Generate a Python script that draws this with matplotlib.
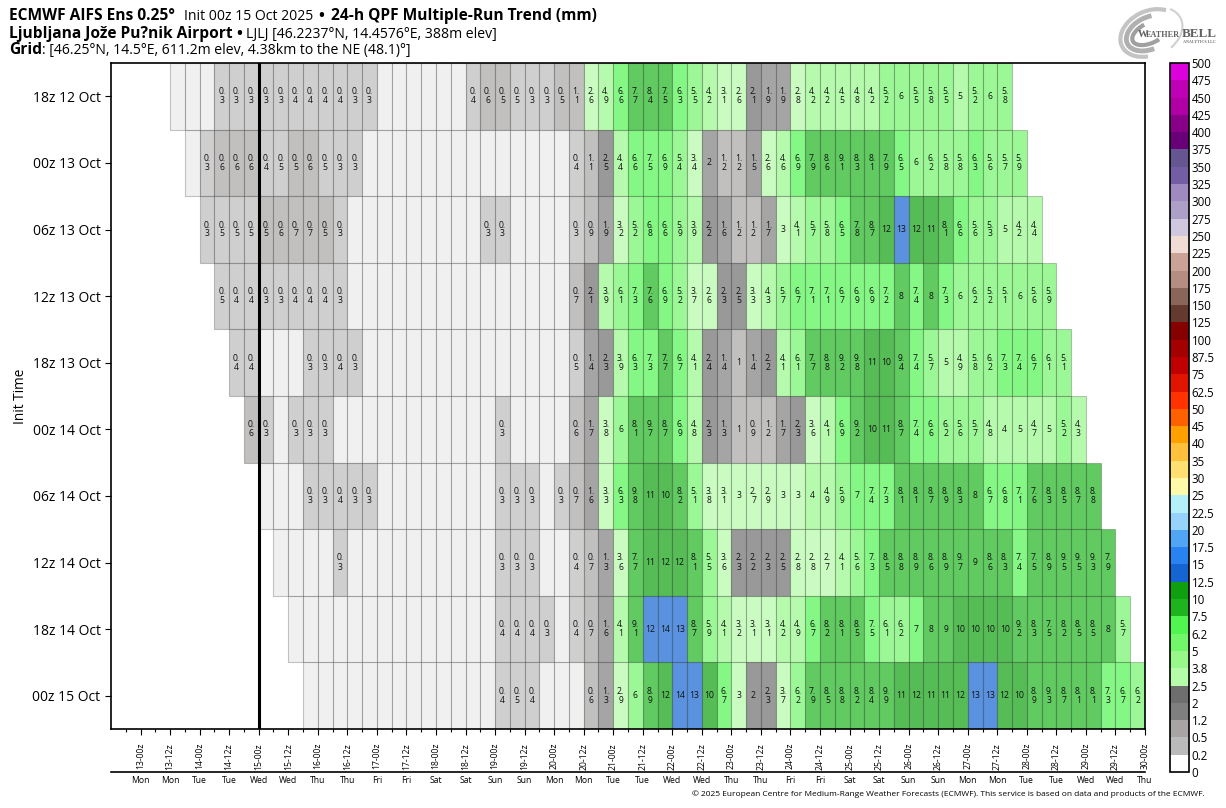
import numpy as np
import matplotlib
matplotlib.use("Agg")
import matplotlib.pyplot as plt
from matplotlib.colors import BoundaryNorm, ListedColormap, to_rgba
from matplotlib.cm import ScalarMappable
from matplotlib.patches import Arc

plt.rcParams['font.family'] = ['Open Sans', 'Noto Sans', 'DejaVu Sans']

W, H = 1226, 808

init_labels = ['18z 12 Oct', '00z 13 Oct', '06z 13 Oct', '12z 13 Oct', '18z 13 Oct',
               '00z 14 Oct', '06z 14 Oct', '12z 14 Oct', '18z 14 Oct', '00z 15 Oct']

# first 6-hourly column of every run, 0 = nothing printed in the cell
row_start = [4, 5, 6, 7, 8, 9, 10, 11, 12, 13]

run0 = [0, 0, 0, .3, .3, .3, .3, .3, .4, .4, .4, .4, .3, .3, 0, 0, 0, 0, 0, 0, .4, .6, .51, .5, .3, .3, .51, 1.1,
        2.6, 4.9, 6.6, 7.7, 8.4, 7.51, 6.3, 5.5, 4.2, 3.1, 2.6, 2.1, 1.9, 1.9, 2.8, 4.2, 4.2, 4.5, 4.8, 4.2, 5.2,
        6, 5.5, 5.8, 5.5, 5, 5.2, 6, 5.8]
run1 = [0, .3, .6, .6, .6, .4, .5, .51, .6, .5, .3, .3, 0, 0, 0, 0, 0, 0, 0, 0, 0, 0, 0, 0, 0, 0, .4, 1.1,
        2.5, 4.4, 6.6, 7.5, 6.9, 5.4, 3.4, 2, 1.2, 1.2, 1.5, 2.6, 4.6, 6.9, 7.9, 8.6, 9.1, 8.3, 8.1, 7.9, 6.5,
        6, 6.2, 5.8, 5.8, 6.3, 5.6, 5.7, 5.9]
run2 = [.3, .5, .5, .5, .51, .6, .7, .7, .51, .3, 0, 0, 0, 0, 0, 0, 0, 0, 0, .3, .3, 0, 0, 0, 0, .3, .9,
        1.9, 3.2, 5.2, 6.8, 6.6, 5.9, 3.9, 2.2, 1.6, 1.2, 1.2, 1.7, 3, 4.1, 5.7, 5.8, 6.5, 7.8, 8.7, 12, 13, 12,
        11, 8.1, 6.6, 5.6, 5.3, 5, 4.2, 4.4]
run3 = [.5, .4, .4, .3, .3, .4, .4, .4, .3, 0, 0, 0, 0, 0, 0, 0, 0, 0, 0, 0, 0, 0, 0, 0, .7, 2.1,
        3.9, 6.1, 7.3, 7.6, 6.9, 5.2, 3.7, 2.6, 2.3, 2.5, 3.3, 4.3, 5.7, 6.7, 7.1, 7.1, 6.7, 6.9, 6.9, 7.2, 8, 7.4,
        8, 7.3, 6, 6.2, 5.2, 5.1, 6, 5.6, 5.9]
run4 = [.4, .4, 0, 0, 0, .3, .3, .4, .3, 0, 0, 0, 0, 0, 0, 0, 0, 0, 0, 0, 0, 0, 0, .5, 1.4,
        2.3, 3.9, 6.3, 7.3, 7.7, 6.7, 4.1, 2.4, 1.4, 1, 1.4, 2.2, 4.1, 6.1, 7.7, 8.8, 9.2, 9.8, 11, 10.5, 9.4, 7.4,
        5.7, 5, 4.9, 5.8, 6.2, 7.3, 7.4, 6.7, 6.1, 5.1]
run5 = [.6, .3, 0, .3, .3, .3, 0, 0, 0, 0, 0, 0, 0, 0, 0, 0, 0, .3, 0, 0, 0, 0, .6, 1.7,
        3.8, 6, 8.1, 9.7, 8.7, 6.9, 4.8, 2.3, 1.3, 1, .9, 1.2, 1.7, 2.3, 3.6, 4.1, 6.9, 9.2, 10.5, 11, 8.7, 7.4,
        6.6, 6.2, 5.6, 5.7, 4.8, 4, 5, 4.7, 5, 5.2, 4.3]
run6 = [0, 0, 0, .3, .3, .4, .3, .3, 0, 0, 0, 0, 0, 0, 0, 0, .3, .3, .3, 0, .3, .7, 1.6,
        3.3, 6.3, 9.8, 11, 10.5, 8.2, 5.1, 3.8, 3.1, 3, 2.7, 2.9, 3, 3, 4, 4.9, 5.9, 7, 7.4, 7.3, 8.1, 8.1,
        8.7, 8.9, 8.3, 8, 6.7, 6.8, 7.1, 7.6, 8.3, 8.5, 8.7, 8.8]
run7 = [0, 0, 0, 0, .3, 0, 0, 0, 0, 0, 0, 0, 0, 0, 0, .3, .3, .3, 0, 0, .4, .7, 1.3,
        3.6, 7.7, 11, 12, 12, 8.1, 5.5, 3.6, 2.3, 2.2, 2.3, 2.5, 2.8, 2.8, 2.7, 4.1, 5.6, 7.3, 8.5, 8.8, 8.9, 8.6,
        8.9, 9.7, 9, 8.6, 8.3, 7.4, 7.51, 8.9, 9.5, 9.5, 9.3, 7.9]
run8 = [0, 0, 0, 0, 0, 0, 0, 0, 0, 0, 0, 0, 0, 0, .4, .4, .4, .3, 0, .4, .7, 1.6,
        4.1, 9.1, 12.51, 14, 13, 8.7, 5.9, 4.1, 3.2, 3.1, 3.1, 4.2, 4.9, 6.7, 8.2, 8.1, 8.5, 7.5, 6.1, 6.2, 7, 8, 9,
        10.5, 10.5, 10.5, 10.5, 9.2, 8.3, 7.51, 8.2, 8.5, 8.5, 8, 5.7]
run9 = [0, 0, 0, 0, 0, 0, 0, 0, 0, 0, 0, 0, 0, .4, .5, .4, 0, 0, 0, .6, 1.3,
        2.9, 6, 8.9, 12, 14, 13, 10.5, 6.7, 3, 2.04, 2.3, 3.7, 6.2, 7.9, 8.5, 8.8, 8.2, 8.4, 9.9, 11, 12, 11, 11,
        12, 13, 13, 12, 10.5, 8.9, 9.3, 8.7, 8.1, 8.1, 7.3, 6.7, 6.2]
runs = [run0, run1, run2, run3, run4, run5, run6, run7, run8, run9]

# colour scale of the bar on the right
levels = [0, .2, .5, 1.2, 2, 2.5, 3.8, 5, 6.2, 7.5, 10, 12.5, 15, 17.5, 20, 22.5, 25, 30, 35, 40, 45, 50,
          62.5, 75, 87.5, 100, 125, 150, 175, 200, 225, 250, 275, 300, 325, 350, 375, 400, 425, 450, 475, 500]
level_labels = ['0', '0.2', '0.5', '1.2', '2', '2.5', '3.8', '5', '6.2', '7.5', '10', '12.5', '15', '17.5',
                '20', '22.5', '25', '30', '35', '40', '45', '50', '62.5', '75', '87.5', '100', '125', '150',
                '175', '200', '225', '250', '275', '300', '325', '350', '375', '400', '425', '450', '475', '500']
colors = ['#ffffff', '#bbbbbb', '#a8a4a4', '#7f7f7f', '#6e6e6e', '#b4fca8', '#98f98a', '#72f66a', '#50f550',
          '#1eb41e', '#0fa00f', '#1464d2', '#2882f0', '#50a5f5', '#96d2fa', '#b4f0fa', '#fffaaa', '#ffe070',
          '#ffc03c', '#ffa000', '#ff6000', '#ff3200', '#e11400', '#c00000', '#a50000', '#870000', '#653a2e',
          '#8a6658', '#b58e82', '#c8a396', '#f0dcd2', '#cfc8df', '#ada0c7', '#9f8ac0', '#735ea5', '#655590',
          '#6a0078', '#870087', '#b000a5', '#bf00b5', '#dc00dc']

hour_labels = ['13-00z', '13-12z', '14-00z', '14-12z', '15-00z', '15-12z', '16-00z', '16-12z', '17-00z',
               '17-12z', '18-00z', '18-12z', '19-00z', '19-12z', '20-00z', '20-12z', '21-00z', '21-12z',
               '22-00z', '22-12z', '23-00z', '23-12z', '24-00z', '24-12z', '25-00z', '25-12z', '26-00z',
               '26-12z', '27-00z', '27-12z', '28-00z', '28-12z', '29-00z', '29-12z', '30-00z']
day_labels = ['Mon', 'Mon', 'Tue', 'Tue', 'Wed', 'Wed', 'Thu', 'Thu', 'Fri', 'Fri', 'Sat', 'Sat', 'Sun', 'Sun',
              'Mon', 'Mon', 'Tue', 'Tue', 'Wed', 'Wed', 'Thu', 'Thu', 'Fri', 'Fri', 'Sat', 'Sat', 'Sun', 'Sun',
              'Mon', 'Mon', 'Tue', 'Tue', 'Wed', 'Wed', 'Thu']
now_col = 10  # column of the 00z 15 Oct init


def cell_color(v):
    if v == 0:
        return to_rgba('#eaeaea', 0.7)
    i = np.searchsorted(levels, v, side='left') - 1
    return to_rgba(colors[i], 0.7)


def cell_text(v):
    if v >= 10:
        return str(int(v))
    s = f"{v:.1f}"
    if s.endswith('.0'):
        return s[:-2]
    return s[:2] + "\n" + s[2:]


def px_box(left, top, right, bottom):
    return [left / W, 1 - bottom / H, (right - left) / W, (bottom - top) / H]


fig = plt.figure(figsize=(W / 100, H / 100), dpi=100)
ax = fig.add_axes(px_box(111, 63, 1145, 729))

for r, vals in enumerate(runs):
    xs = row_start[r] + np.arange(len(vals))
    ax.bar(xs, 1, width=1, bottom=r, align='edge', color=[cell_color(v) for v in vals],
           edgecolor=(0, 0, 0, 0.22), linewidth=0.8)
    for x, v in zip(xs, vals):
        if v > 0:
            ax.text(x + 0.5, r + 0.5, cell_text(v), ha='center', va='center', fontsize=6.2,
                    linespacing=1.0, color='#111111')

ax.axvline(now_col, color='black', linewidth=2.2, zorder=5)

ax.set_xlim(0, 70)
ax.set_ylim(10, 0)
ax.set_yticks(np.arange(10) + 0.5, init_labels, fontsize=10)
ax.set_ylabel('Init Time', fontsize=9.8, labelpad=3)
major_pos = np.arange(len(hour_labels)) * 2 + 2
ax.set_xticks(major_pos, hour_labels, rotation=90, fontsize=6.2)
ax.set_xticks(major_pos - 1, minor=True)
ax.tick_params(axis='x', which='major', length=4, width=0.8, pad=6)
ax.tick_params(axis='x', which='minor', length=2, width=0.8)
ax.tick_params(axis='y', length=4, width=0.8)
for s in ax.spines.values():
    s.set_linewidth(1.2)

# weekday row under the hour labels
sec = ax.secondary_xaxis((729 - 772) / 666)
sec.set_xticks(major_pos, day_labels, fontsize=6.2)
sec.tick_params(axis='x', length=0, pad=3)
sec.spines['bottom'].set_linewidth(1.2)

# colour bar
cax = fig.add_axes(px_box(1170, 63, 1189, 772))
sm = ScalarMappable(norm=BoundaryNorm(levels, len(colors)), cmap=ListedColormap(colors))
cb = fig.colorbar(sm, cax=cax, spacing='uniform', ticks=levels, drawedges=False)
cb.ax.set_yticklabels(level_labels, fontsize=8.3)
cb.ax.tick_params(length=0, pad=2)
cb.outline.set_linewidth(1.2)


# heading lines are made of bold and plain pieces side by side
def text_row(x, y, pieces):
    rend = fig.canvas.get_renderer()
    for s, weight, gap in pieces:
        size = 11.2 if weight == 'bold' else 10.1
        t = fig.text(x / W, 1 - y / H, s, fontsize=size, fontweight=weight, va='baseline')
        x = t.get_window_extent(rend).x1 + gap


text_row(9, 20, [('ECMWF AIFS Ens 0.25°', 'bold', 9), ('Init 00z 15 Oct 2025', 'normal', 5), ('•', 'bold', 7),
                 ('24-h QPF Multiple-Run Trend (mm)', 'bold', 0)])
text_row(9, 38, [('Ljubljana Jože Pu?nik Airport', 'bold', 4), ('•', 'bold', 4),
                 ('LJLJ [46.2237°N, 14.4576°E, 388m elev]', 'normal', 0)])
text_row(9, 54, [('Grid', 'bold', 0), (': [46.25°N, 14.5°E, 611.2m elev, 4.38km to the NE (48.1)°]', 'normal', 0)])

fig.text(1205 / W, 1 - 794 / H, '© 2025 European Centre for Medium-Range Weather Forecasts (ECMWF). '
         'This service is based on data and products of the ECMWF.', ha='right', va='center', fontsize=6.07)

# logo top right
logo = fig.add_axes(px_box(1110, 0, 1226, 63), facecolor='none')
logo.set_xlim(1110, 1226)
logo.set_ylim(63, 0)
logo.axis('off')
for w, h, ang, a1, a2, lw, col in [(62, 44, -25, 120, 330, 3.0, '#c4c4c4'), (50, 32, -25, 100, 300, 3.5, '#b0b0b0'),
                                   (38, 20, -25, 60, 260, 3.0, '#a0a0a0'), (68, 48, -25, 335, 60, 1.5, '#d0d0d0')]:
    logo.add_patch(Arc((1150, 33), w, h, angle=ang, theta1=a1, theta2=a2, linewidth=lw, color=col))
logo.text(1138, 37, 'W', fontsize=7.5, family='Liberation Serif', fontweight='bold', color='#606060', va='baseline')
logo.text(1146, 37, 'EATHER', fontsize=5.9, family='Liberation Serif', fontweight='bold', color='#606060',
          va='baseline')
logo.text(1182, 37, 'BELL', fontsize=9.4, family='Liberation Serif', fontweight='bold', color='#606060', va='baseline')
logo.text(1216, 43, 'ANALYTICS LLC', fontsize=3, family='Liberation Serif', fontweight='bold', color='#707070',
          ha='right', va='baseline')

fig.savefig('out.png', dpi=100)
